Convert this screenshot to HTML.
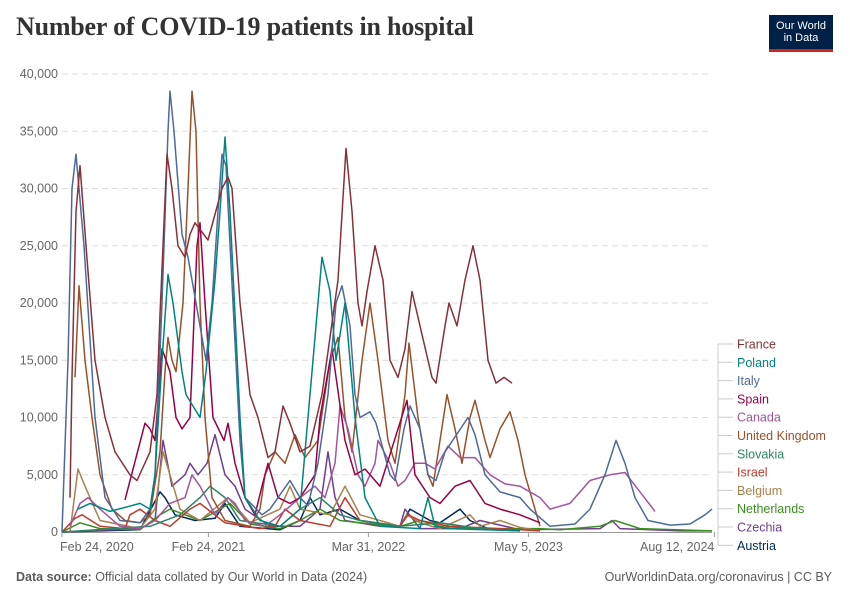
<!DOCTYPE html>
<html><head><meta charset="utf-8">
<style>
body{margin:0;background:#fff;font-family:"Liberation Sans",sans-serif;}
#wrap{position:relative;width:850px;height:600px;overflow:hidden;}
h1{position:absolute;left:16px;top:12px;margin:0;font-family:"Liberation Serif",serif;font-weight:bold;font-size:26px;color:#333;letter-spacing:-0.2px;}
.logo{position:absolute;left:769px;top:15px;width:64px;height:37px;background:#002147;color:#fff;font-size:11px;line-height:12px;text-align:center;box-sizing:border-box;padding-top:5px;border-bottom:3px solid #ce261e;}
.foot{position:absolute;top:570px;font-size:12.5px;color:#5b5b5b;}
</style></head><body>
<div id="wrap">
<h1>Number of COVID-19 patients in hospital</h1>
<div class="logo">Our World<br>in Data</div>
<svg id="chart" width="850" height="600" style="position:absolute;left:0;top:0"></svg>
<div class="foot" style="left:16px"><b>Data source:</b> Official data collated by Our World in Data (2024)</div>
<div class="foot" style="right:18px">OurWorldinData.org/coronavirus | CC BY</div>
</div>
<script>
const yTicks=[0,5000,10000,15000,20000,25000,30000,35000,40000];
const xTickDays=[0,366,766,1166,1631];
const xTickLabels=["Feb 24, 2020","Feb 24, 2021","Mar 31, 2022","May 5, 2023","Aug 12, 2024"];
const seriesNames=["France","Poland","Italy","Spain","Canada","United Kingdom","Slovakia","Israel","Belgium","Netherlands","Czechia","Austria"];
const seriesColors=["#883039","#00847e","#4c6a9c","#970046","#a2559c","#9a5129","#2c8465","#c0392b","#a8824e","#3a8e1e","#6d3e91","#00295b"];
const franceDays=[20,25,35,45,60,82.5,107.5,132.5,170,187.5,220,237.5,245,262.5,275,290,307.5,320,332.5,365,400,415,425,445,470,490,515,532.5,552.5,570,595,620,650,690,710,725,740,750,762.5,782.5,802.5,820,840,857.5,875,895,925,935,957.5,967.5,987.5,1007.5,1027.5,1045,1065,1085,1105,1125];
const franceValues=[3,13.5,28,32,25,15,10,7,5,4.5,7,12,19,33,30,25,24,26,27,25.5,30,31,30,20,12,10,6.5,7,11,9.5,7,7.5,12,22,33.5,28,20,18,21,25,22,15,13.5,16,21,18,13.5,13,18,20,18,22,25,22,15,13,13.5,13].map(v=>v*1000);
const polandDays=[40,70,120,195,220,232.5,250,265,277.5,300,310,345,360,382.5,395,407.5,420,445,457.5,495,545,595,620,650,670,685,707.5,732.5,757.5,795,895,915,932.5,970,1145];
const polandValues=[2,2.5,1.8,2.5,2,5,15,22.5,20,14,12,10,14,22,28,34.5,28,10,3,1,0.5,2,12,24,21,15,20,10,3,0.5,0.3,3,0.5,0.3,0.1].map(v=>v*1000);
const italyDays=[0,15,25,35,55,82.5,107.5,145,195,220,232.5,250,265,270,280,300,315,345,360,375,390,400,410,427.5,445,457.5,500,520,540,570,595,615,640,665,685,700,720,732.5,745,770,785,820,832.5,855,870,895,915,935,957.5,1015,1032.5,1057.5,1095,1145,1170,1220,1282.5,1320,1357.5,1385,1407.5,1432.5,1465,1520,1570,1607.5,1625];
const italyValues=[0,15,30,33,25,10,3,1,0.8,2,5,20,35,38.5,35,26,24,18,15,20,28,33,32,20,8,3,1.5,2,3,4.5,3,2.3,6,12,20,21.5,18,12,10,10.5,9.5,5,4.5,9,11,9,5,4.5,7,10,8.5,5,3.5,3,2,0.5,0.7,2,5,8,6,3,1,0.6,0.7,1.5,2].map(v=>v*1000);
const spainDays=[157.5,207.5,220,232.5,250,270,285,300,320,337.5,345,357.5,377.5,405,415,432.5,457.5,482.5,500,515,540,570,595,632.5,645,675,707.5,732.5,757.5,795,862.5,882.5,920,945,982.5,1020,1057.5,1095,1145,1195];
const spainValues=[2.8,9.5,9,8,16,14,10,9,10,25,27,20,10,8,9.5,6,3,1.5,4,6,3,2.5,3,5,10,16,8,5,5.5,4,11.5,5,3,2.5,4,4.5,2.5,2,1.5,0.8].map(v=>v*1000);
const canadaDays=[20,45,65,95,145,195,232.5,270,307.5,325,345,382.5,415,432.5,457.5,507.5,545,595,632.5,657.5,682.5,695,715,740,757.5,782.5,790,820,840,857.5,882.5,907.5,932.5,965,995,1032.5,1070,1107.5,1145,1195,1220,1270,1320,1370,1407.5,1445,1482.5];
const canadaValues=[0.5,2.5,3,2,0.5,0.3,1,2.5,3,5,4,1.5,3,2.5,1,0.5,1.5,3,4,3,6,11,9,5,4,6,8,6,4,4.5,6,6,5.5,7.5,6.5,6.5,5,4.2,4,3,2,2.5,4.5,5,5.2,3.5,1.8].map(v=>v*1000);
const ukDays=[32.5,42.5,57.5,75,95,125,157.5,195,220,245,257.5,265,275,285,302.5,315,325,335,345,357.5,375,407.5,470,495,507.5,532.5,557.5,582.5,607.5,640,670,690,707.5,725,750,770,790,815,832.5,857.5,867.5,890,915,927.5,945,962.5,982.5,1000,1020,1032.5,1057.5,1070,1095,1120,1140,1157.5,1182.5,1195];
const ukValues=[13.5,21.5,15,10,5,2,1,0.8,1.5,7,14,17,15,14,20,30,38.5,35,20,10,3,1,0.5,2,5,7,6,8.5,6.5,8,15,17,10,7,15,20,15,8,6,12,16.5,10,5,4,8,12,9,6,10,11.5,8,6.5,9,10.5,8,5,2,0.5].map(v=>v*1000);
const slovakiaDays=[0,220,295,345,370,407.5,445,545,595,645,695,745,845,945,1045,1145];
const slovakiaValues=[0,0.5,1.5,3,4,3,1,0.5,2,3,1.5,1,0.5,0.8,0.3,0.1].map(v=>v*1000);
const israelDays=[0,32.5,50,95,157.5,170,195,232.5,270,320,345,407.5,495,532.5,557.5,595,670,707.5,745,845,865,895,970,1095,1195];
const israelValues=[0,1.2,1.5,0.5,0.3,1.5,2,1,0.5,2,2.5,0.8,0.3,0.5,2,1,0.5,3,1,0.5,1.5,1,0.5,0.3,0.1].map(v=>v*1000);
const belgiumDays=[20,40,57.5,95,195,232.5,252.5,270,295,345,415,470,545,570,595,670,707.5,745,845,862.5,895,945,1020,1045,1095,1145,1195];
const belgiumValues=[0,5.5,4,1,0.3,2,7,5,2,1,3,0.8,2,4,2,1.5,4,1.5,0.5,1.5,0.8,0.3,1.5,0.5,1,0.4,0.1].map(v=>v*1000);
const netherlandsDays=[0,45,95,195,245,270,345,420,470,545,595,645,695,745,845,895,945,1045,1195,1245,1345,1382.5,1445,1625];
const netherlandsValues=[0,0.8,0.3,0.2,1.5,2,1,2.5,0.7,0.3,1,2,1,0.8,0.5,1,0.5,0.3,0.3,0.2,0.5,1,0.3,0.1].map(v=>v*1000);
const czechiaDays=[0,195,232.5,252.5,275,307.5,320,340,362.5,382.5,407.5,432.5,457.5,520,595,645,665,682.5,707.5,795,845,857.5,895,995,1045,1145,1345,1375,1395,1545,1625];
const czechiaValues=[0,0.3,1,8,4,5,6,5,6,8.5,5,4,2,0.5,0.5,2,7,3,1,0.5,0.5,2,0.3,0.3,1,0.2,0.3,1,0.3,0.1,0.1].map(v=>v*1000);
const austriaDays=[0,195,245,257.5,282.5,332.5,382.5,407.5,445,545,595,620,645,695,745,845,870,920,945,995,1020,1070];
const austriaValues=[0,0.2,3.5,3,1.5,1,1.2,2.5,0.5,0.2,1,3,1.5,2,1,0.5,2,1,0.8,2,1,0.2].map(v=>v*1000);

const allDays=[franceDays,polandDays,italyDays,spainDays,canadaDays,ukDays,slovakiaDays,israelDays,belgiumDays,netherlandsDays,czechiaDays,austriaDays];
const allValues=[franceValues,polandValues,italyValues,spainValues,canadaValues,ukValues,slovakiaValues,israelValues,belgiumValues,netherlandsValues,czechiaValues,austriaValues];

const X0=62,X1=712,Y0=532,Y1=74,DMAX=1625,VMAX=40000;
function xs(d){return X0+d/DMAX*(X1-X0);}
function ys(v){return Y0-v/VMAX*(Y0-Y1);}
const svg=document.getElementById('chart');
const NS='http://www.w3.org/2000/svg';
function mk(t,a){const e=document.createElementNS(NS,t);for(const k in a)e.setAttribute(k,a[k]);svg.appendChild(e);return e;}

yTicks.forEach(v=>{
  if(v>0){const g=mk('line',{x1:X0,x2:X1,y1:ys(v),y2:ys(v),stroke:'#dddddd','stroke-dasharray':'6,4'});
  
  }
  const t=mk('text',{x:X0-4,y:ys(v)+4,'text-anchor':'end','font-size':'12.5',fill:'#666','font-family':'Liberation Sans,sans-serif'});
  t.textContent=v.toLocaleString('en-US');
  
  
});
const ax=mk('line',{x1:X0,x2:X1,y1:Y0+0.5,y2:Y0+0.5,stroke:'#999'});


xTickDays.forEach((d,i)=>{
  const tk=mk('line',{x1:xs(d),x2:xs(d),y1:Y0,y2:Y0+5,stroke:'#999'});
  
  
  let anchor=i==0?'start':(i==xTickDays.length-1?'end':'middle');
  const x=i==0?X0-2:xs(d);
  const t=mk('text',{x:x,y:551,'text-anchor':anchor,'font-size':'12.5',fill:'#666','font-family':'Liberation Sans,sans-serif'});
  t.textContent=xTickLabels[i];
  
  
});
for(let s=allDays.length-1;s>=0;s--){
  const pts=allDays[s].map((d,i)=>xs(d).toFixed(1)+','+ys(allValues[s][i]).toFixed(1)).join(' ');
  const p=mk('polyline',{points:pts,fill:'none',stroke:seriesColors[s],'stroke-width':1.5,'stroke-linejoin':'round'});
  
  
}
const vl=mk('line',{x1:718,x2:718,y1:344,y2:545,stroke:'#ccc'});


seriesNames.forEach((n,i)=>{
  const y=344+i*18.3;
  const l=mk('line',{x1:718,x2:733,y1:y,y2:y,stroke:'#ccc'});
  
  
  const t=mk('text',{x:737,y:y+4.5,'font-size':'12.5',fill:seriesColors[i],'font-family':'Liberation Sans,sans-serif'});
  t.textContent=n;
  
  
});
</script>
</body></html>
